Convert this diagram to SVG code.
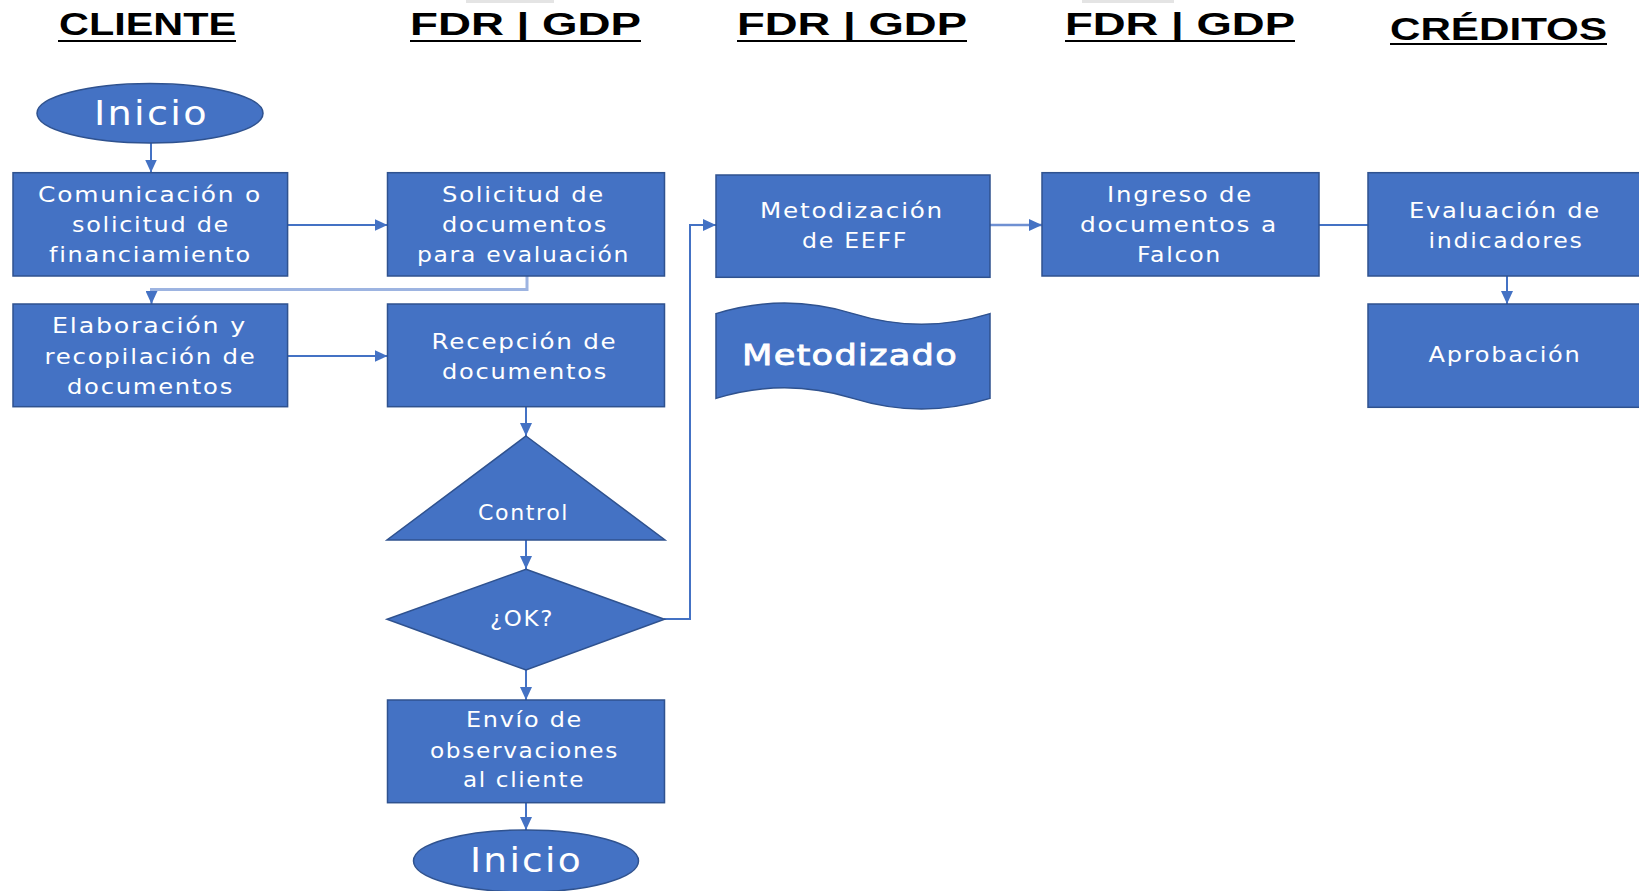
<svg xmlns="http://www.w3.org/2000/svg" width="1639" height="891" viewBox="0 0 1639 891">
  <defs>
    <style>
      .hdr{font-family:"Liberation Sans",Arial,sans-serif;font-weight:bold;font-size:32px;fill:#000}
      .ul{stroke:#000;stroke-width:2}
      .box{fill:#4472C4;stroke:#2F528F;stroke-width:1.5}
      .t{font-family:"DejaVu Sans",Verdana,sans-serif;font-size:21px;letter-spacing:1.5px;fill:#fff}
      .big{font-size:33px;letter-spacing:2px}
      .heavy{font-size:28px;letter-spacing:1px;stroke:#fff;stroke-width:0.8}
      .conn{fill:none;stroke:#4472C4;stroke-width:2}
      .conn-light{fill:none;stroke:#9DB4E1;stroke-width:3}
      .conn-soft{fill:none;stroke:#6F90D2;stroke-width:2.5}
    </style>
    <marker id="arr" markerUnits="userSpaceOnUse" markerWidth="14" markerHeight="12" refX="13" refY="6" orient="auto">
      <path d="M0,0 L13,6 L0,12 z" fill="#4472C4"/>
    </marker>
  </defs>
  <rect width="1639" height="891" fill="#fff"/>

  <!-- lane headers -->
  <g id="headers">
    <rect x="466" y="0" width="88" height="3" fill="#e4e4e4"/>
    <rect x="1082" y="0" width="92" height="3" fill="#e4e4e4"/>
    <text class="hdr" x="59" y="35" textLength="177" lengthAdjust="spacingAndGlyphs">CLIENTE</text>
    <line class="ul" x1="58" y1="41" x2="236" y2="41"/>
    <text class="hdr" x="410" y="35" textLength="231" lengthAdjust="spacingAndGlyphs">FDR | GDP</text>
    <line class="ul" x1="410" y1="41" x2="641" y2="41"/>
    <text class="hdr" x="737" y="35" textLength="230" lengthAdjust="spacingAndGlyphs">FDR | GDP</text>
    <line class="ul" x1="737" y1="41" x2="967" y2="41"/>
    <text class="hdr" x="1065" y="35" textLength="230" lengthAdjust="spacingAndGlyphs">FDR | GDP</text>
    <line class="ul" x1="1065" y1="41" x2="1295" y2="41"/>
    <text class="hdr" x="1390" y="39.5" textLength="217" lengthAdjust="spacingAndGlyphs">CRÉDITOS</text>
    <line class="ul" x1="1390" y1="44" x2="1607" y2="44"/>
  </g>

  <!-- connectors -->
  <g id="connectors">
    <path class="conn" d="M151,143 V172.5" marker-end="url(#arr)"/>
    <path class="conn" d="M287.5,225 H387.5" marker-end="url(#arr)"/>
    <path class="conn-light" d="M527,276 V289.5 H151.5 V296"/>
    <path class="conn" d="M151.5,294 V304" marker-end="url(#arr)"/>
    <path class="conn" d="M287.5,356 H387.5" marker-end="url(#arr)"/>
    <path class="conn" d="M526,406.7 V436" marker-end="url(#arr)"/>
    <path class="conn" d="M526,540 V569" marker-end="url(#arr)"/>
    <path class="conn" d="M664,619 H690 V225 H716" marker-end="url(#arr)"/>
    <path class="conn" d="M526,670 V700" marker-end="url(#arr)"/>
    <path class="conn" d="M526,802.7 V830" marker-end="url(#arr)"/>
    <path class="conn-soft" d="M990,225 H1042" marker-end="url(#arr)"/>
    <path class="conn" d="M1319,225 H1368"/>
    <path class="conn" d="M1507,276 V304" marker-end="url(#arr)"/>
  </g>

  <!-- client lane -->
  <g id="inicio-top">
    <ellipse class="box" cx="150" cy="113.3" rx="113" ry="29.7"/>
    <text class="t big" x="94" y="125" textLength="115" lengthAdjust="spacingAndGlyphs">Inicio</text>
  </g>
  <g id="comunicacion">
    <rect class="box" x="13" y="172.7" width="274.6" height="103.3"/>
    <text class="t" x="38" y="201.7" textLength="224" lengthAdjust="spacingAndGlyphs">Comunicación o</text>
    <text class="t" x="72" y="232" textLength="158" lengthAdjust="spacingAndGlyphs">solicitud de</text>
    <text class="t" x="49" y="261.7" textLength="203" lengthAdjust="spacingAndGlyphs">financiamiento</text>
  </g>
  <g id="elaboracion">
    <rect class="box" x="13" y="304" width="274.6" height="102.7"/>
    <text class="t" x="52" y="333" textLength="195" lengthAdjust="spacingAndGlyphs">Elaboración y</text>
    <text class="t" x="44.5" y="363.5" textLength="212" lengthAdjust="spacingAndGlyphs">recopilación de</text>
    <text class="t" x="67" y="393.5" textLength="167" lengthAdjust="spacingAndGlyphs">documentos</text>
  </g>

  <!-- first FDR | GDP lane -->
  <g id="solicitud">
    <rect class="box" x="387.5" y="172.7" width="277" height="103.3"/>
    <text class="t" x="442" y="201.7" textLength="163" lengthAdjust="spacingAndGlyphs">Solicitud de</text>
    <text class="t" x="442" y="232" textLength="166" lengthAdjust="spacingAndGlyphs">documentos</text>
    <text class="t" x="417" y="261.7" textLength="213" lengthAdjust="spacingAndGlyphs">para evaluación</text>
  </g>
  <g id="recepcion">
    <rect class="box" x="387.5" y="304" width="277" height="102.7"/>
    <text class="t" x="431.5" y="349.3" textLength="186" lengthAdjust="spacingAndGlyphs">Recepción de</text>
    <text class="t" x="442" y="379.3" textLength="166" lengthAdjust="spacingAndGlyphs">documentos</text>
  </g>
  <g id="control">
    <path class="box" d="M526,436 L665,540 L387,540 Z"/>
    <text class="t" x="478" y="520" textLength="91" lengthAdjust="spacingAndGlyphs">Control</text>
  </g>
  <g id="ok">
    <path class="box" d="M526,569.3 L664.5,619.3 L526,670 L387,619.3 Z"/>
    <text class="t" x="490" y="626" textLength="64" lengthAdjust="spacingAndGlyphs">¿OK?</text>
  </g>
  <g id="envio">
    <rect class="box" x="387.5" y="700" width="277" height="102.7"/>
    <text class="t" x="466" y="727" textLength="117" lengthAdjust="spacingAndGlyphs">Envío de</text>
    <text class="t" x="430" y="758" textLength="189" lengthAdjust="spacingAndGlyphs">observaciones</text>
    <text class="t" x="463" y="787" textLength="122" lengthAdjust="spacingAndGlyphs">al cliente</text>
  </g>
  <g id="inicio-bottom">
    <ellipse class="box" cx="526" cy="861" rx="112.5" ry="31"/>
    <text class="t big" x="470" y="871.7" textLength="113" lengthAdjust="spacingAndGlyphs">Inicio</text>
  </g>

  <!-- second FDR | GDP lane -->
  <g id="metodizacion">
    <rect class="box" x="716" y="175" width="274" height="102.3"/>
    <text class="t" x="760" y="218" textLength="184" lengthAdjust="spacingAndGlyphs">Metodización</text>
    <text class="t" x="802" y="248" textLength="106" lengthAdjust="spacingAndGlyphs">de EEFF</text>
  </g>
  <g id="metodizado">
    <path class="box" d="M716,313.6 Q784.5,292.4 853,313.6 Q921.5,334.8 990,313.6 L990,398.4 Q921.5,419.6 853,398.4 Q784.5,377.2 716,398.4 Z"/>
    <text class="t heavy" x="742" y="365" textLength="216" lengthAdjust="spacingAndGlyphs">Metodizado</text>
  </g>

  <!-- third FDR | GDP lane -->
  <g id="ingreso">
    <rect class="box" x="1042" y="172.7" width="277" height="103.3"/>
    <text class="t" x="1107" y="201.7" textLength="146" lengthAdjust="spacingAndGlyphs">Ingreso de</text>
    <text class="t" x="1080" y="232" textLength="198" lengthAdjust="spacingAndGlyphs">documentos a</text>
    <text class="t" x="1137" y="262" textLength="85" lengthAdjust="spacingAndGlyphs">Falcon</text>
  </g>

  <!-- CRÉDITOS lane -->
  <g id="evaluacion">
    <rect class="box" x="1368" y="172.7" width="276" height="103.3"/>
    <text class="t" x="1409" y="218" textLength="192" lengthAdjust="spacingAndGlyphs">Evaluación de</text>
    <text class="t" x="1428.5" y="247.7" textLength="155" lengthAdjust="spacingAndGlyphs">indicadores</text>
  </g>
  <g id="aprobacion">
    <rect class="box" x="1368" y="304" width="276" height="103.3"/>
    <text class="t" x="1428.5" y="361.7" textLength="153" lengthAdjust="spacingAndGlyphs">Aprobación</text>
  </g>
</svg>
